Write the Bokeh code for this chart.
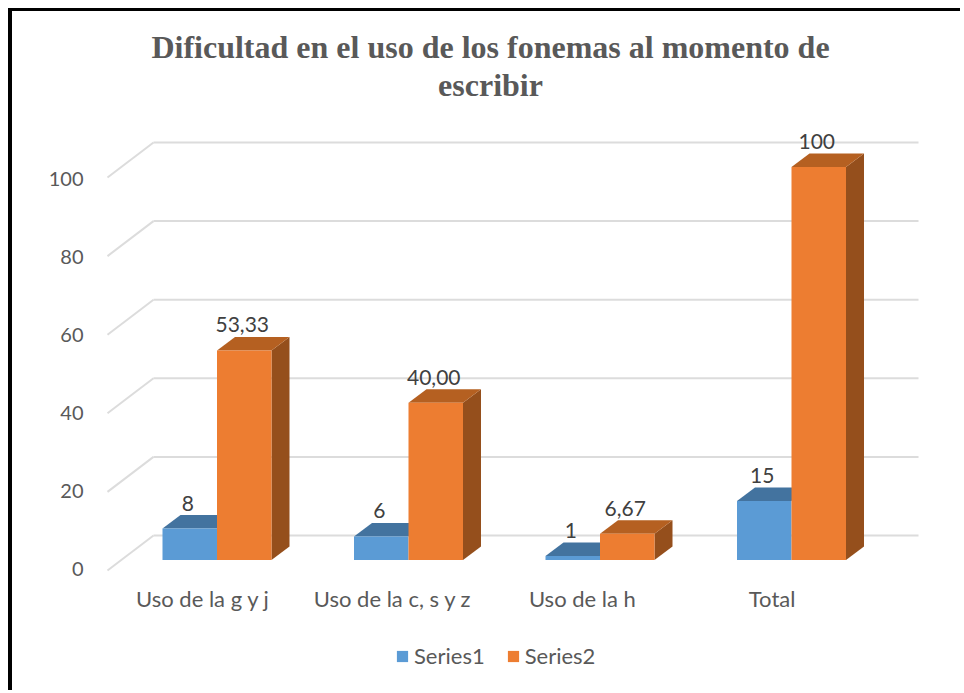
from bokeh.plotting import figure
from bokeh.models import Range1d, LinearAxis, FixedTicker, Legend, LegendItem, Title
from bokeh.embed import file_html
from bokeh.resources import INLINE
from bokeh.core.properties import value

categories = ["Uso de la g y j", "Uso de la c, s y z", "Uso de la h", "Total"]
series1 = [8, 6, 1, 15]
series2 = [53.33, 40.00, 6.67, 100]
labels1 = ["8", "6", "1", "15"]
labels2 = ["53,33", "40,00", "6,67", "100"]
y_ticks = [0, 20, 40, 60, 80, 100]

TITLE_LINES = ["Dificultad en el uso de los fonemas al momento de", "escribir"]
BLUE, BLUE_TOP = "#5b9bd5", "#43739f"
ORANGE, ORANGE_TOP, ORANGE_SIDE = "#ed7d31", "#b56021", "#954f1c"
GRID = "#dcdcdc"
SANS = "Lato"

CX, CY = 12, 11
W, H = 952, 682
L_PAD, T_PAD = 4, 91
fx0, fx1 = CX + L_PAD, CX + W
fy0, fy1 = CY + T_PAD, CY + H
UX = 191.5
UY = 3.93
X0_PX, Y0_PX = 216.5, 559.5
BW = 54.5 / UX
DX, DY = 18 / UX, 13.5 / UY
GX_BACK, GX_FRONT, GX_END = (153 - X0_PX) / UX, (107 - X0_PX) / UX, (918 - X0_PX) / UX
G_BACK = (Y0_PX - 535) / UY
G_FRONT = (Y0_PX - 570) / UY

p = figure(width=W, height=H, output_backend="svg", toolbar_location=None,
           x_range=Range1d((fx0 - X0_PX) / UX, (fx1 - X0_PX) / UX),
           y_range=Range1d((Y0_PX - fy1) / UY, (Y0_PX - fy0) / UY),
           min_border_left=L_PAD, min_border_right=0, min_border_top=T_PAD, min_border_bottom=0,
           outline_line_color=None, background_fill_color="white", border_fill_color="white",
           styles={"margin-left": "8px", "margin-top": "8px",
                   "border-left": "4px solid #000", "border-top": "3px solid #000"})
p.xgrid.visible = False
p.ygrid.visible = False
p.xaxis.visible = False
p.yaxis.visible = False

for line in reversed(TITLE_LINES):
    p.add_layout(Title(text=line, align="center", text_font="Liberation Serif", text_font_style="bold",
                       text_font_size="32px", text_color="#595959", standoff=0), "above")

p.segment([GX_BACK] * 6, [v + G_BACK for v in y_ticks], [GX_END] * 6, [v + G_BACK for v in y_ticks],
          line_color=GRID, line_width=2)
p.segment([GX_FRONT] * 6, [v + G_FRONT for v in y_ticks], [GX_BACK] * 6, [v + G_BACK for v in y_ticks],
          line_color=GRID, line_width=2)

xs = list(range(len(categories)))
x1 = [i - BW / 2 for i in xs]
x2 = [i + BW / 2 for i in xs]


def top_face(x, v):
    l, r = x - BW / 2, x + BW / 2
    return [l, r, r + DX, l + DX], [v, v, v + DY, v + DY]


def side_face(x, v):
    r = x + BW / 2
    return [r, r + DX, r + DX, r], [0, DY, v + DY, v]


faces = [top_face(x, v) for x, v in zip(x1, series1)]
p.patches([f[0] for f in faces], [f[1] for f in faces], fill_color=BLUE_TOP, line_color=None)
blue = p.vbar(x=x1, top=series1, bottom=0, width=BW, fill_color=BLUE, line_color=None)
faces = [side_face(x, v) for x, v in zip(x2, series2)]
p.patches([f[0] for f in faces], [f[1] for f in faces], fill_color=ORANGE_SIDE, line_color=None)
faces = [top_face(x, v) for x, v in zip(x2, series2)]
p.patches([f[0] for f in faces], [f[1] for f in faces], fill_color=ORANGE_TOP, line_color=None)
orange = p.vbar(x=x2, top=series2, bottom=0, width=BW, fill_color=ORANGE, line_color=None)

LBL_DX, LBL_DY = -2 / UX, 25.5 / UY
for xv, yv, txt in ((x1, series1, labels1), (x2, series2, labels2)):
    p.text([x + LBL_DX for x in xv], [v + LBL_DY for v in yv], text=txt,
           text_font=value(SANS), text_font_size="21px", text_color="#404040",
           text_align="center", text_baseline="middle")

p.extra_y_ranges["front"] = Range1d((568 - fy1) / 3.90, (568 - fy0) / 3.90)
yax = LinearAxis(y_range_name="front", ticker=FixedTicker(ticks=y_ticks), fixed_location=(93 - X0_PX) / UX,
                 axis_line_color=None, major_tick_line_color=None, minor_tick_line_color=None,
                 major_label_standoff=4, major_label_text_font=SANS, major_label_text_font_size="20px",
                 major_label_text_color="#595959")
p.add_layout(yax, "left")

p.extra_x_ranges["cats"] = Range1d((fx0 - 202.5) / 189.7, (fx1 - 202.5) / 189.7)
xax = LinearAxis(x_range_name="cats", ticker=FixedTicker(ticks=xs), fixed_location=(Y0_PX - 574) / UY,
                 major_label_overrides={i: c for i, c in enumerate(categories)},
                 axis_line_color=None, major_tick_line_color=None, minor_tick_line_color=None,
                 major_label_standoff=4, major_label_text_font=SANS, major_label_text_font_size="22px",
                 major_label_text_color="#595959")
p.add_layout(xax, "below")

legend = Legend(items=[LegendItem(label="Series1", renderers=[blue]),
                       LegendItem(label="Series2", renderers=[orange])],
                orientation="horizontal", location=(395 - fx0, fy1 - 669), border_line_color=None,
                background_fill_alpha=0, padding=0, margin=0, spacing=21, glyph_width=14, glyph_height=14,
                label_standoff=5, label_text_font=SANS, label_text_font_size="22px",
                label_text_color="#595959", label_height=14)
p.add_layout(legend, "center")

open("out.html", "w").write(file_html(p, INLINE))
